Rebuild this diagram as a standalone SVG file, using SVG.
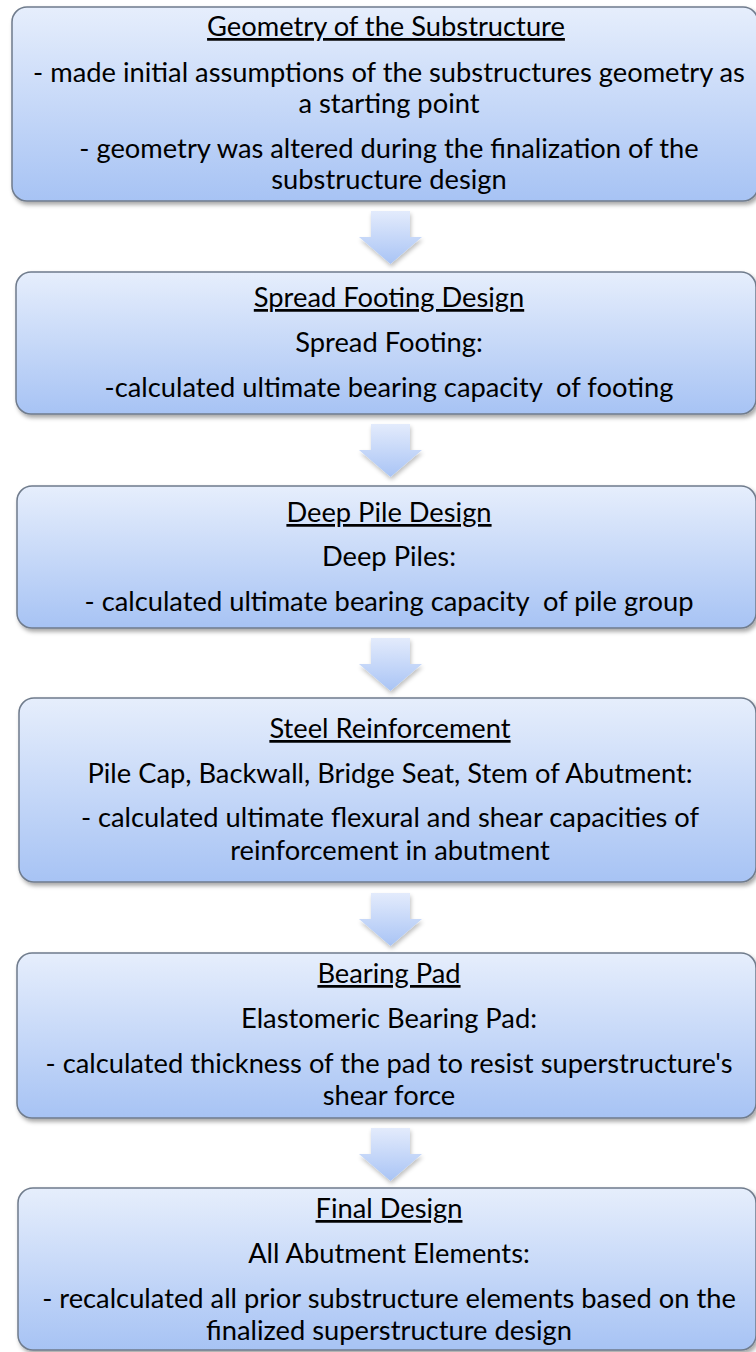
<svg xmlns="http://www.w3.org/2000/svg" width="756" height="1352" viewBox="0 0 756 1352">
<style>
.box{fill:url(#bg);stroke:#6f7b8c;stroke-width:1.5;filter:url(#sh)}
.arr{fill:url(#ag);filter:url(#sh2)}
text{font-family:Lato,"Open Sans","Liberation Sans",sans-serif;font-size:27.3px;fill:#000;text-anchor:middle;white-space:pre}
.t{text-decoration:underline}
</style>
<defs>
<linearGradient id="bg" x1="0" y1="0" x2="0" y2="1">
<stop offset="0" stop-color="#e6eefc"/>
<stop offset="1" stop-color="#a7c3f4"/>
</linearGradient>
<linearGradient id="ag" x1="0" y1="0" x2="0" y2="1">
<stop offset="0" stop-color="#e3ebfc"/>
<stop offset="1" stop-color="#a9c4f5"/>
</linearGradient>
<filter id="sh" x="-5%" y="-10%" width="115%" height="125%">
<feGaussianBlur in="SourceAlpha" stdDeviation="2"/>
<feOffset dx="2" dy="3" result="b"/>
<feFlood flood-color="#000" flood-opacity="0.35"/>
<feComposite in2="b" operator="in"/>
<feMerge><feMergeNode/><feMergeNode in="SourceGraphic"/></feMerge>
</filter>
<filter id="sh2" x="-30%" y="-20%" width="160%" height="150%">
<feGaussianBlur in="SourceAlpha" stdDeviation="2"/>
<feOffset dx="1" dy="3" result="b"/>
<feFlood flood-color="#000" flood-opacity="0.25"/>
<feComposite in2="b" operator="in"/>
<feMerge><feMergeNode/><feMergeNode in="SourceGraphic"/></feMerge>
</filter>
</defs>
<g id="connectors">
<path class="arr" d="M371,211 H410 V237 H422 L390.5,264 L359,237 H371 Z"/>
<path class="arr" d="M371,424 H410 V450 H422 L390.5,477 L359,450 H371 Z"/>
<path class="arr" d="M371,638 H410 V664 H422 L390.5,691 L359,664 H371 Z"/>
<path class="arr" d="M371,893 H410 V919 H422 L390.5,946 L359,919 H371 Z"/>
<path class="arr" d="M371,1128 H410 V1154 H422 L390.5,1181 L359,1154 H371 Z"/>
</g>
<g id="n1">
<rect class="box" x="12" y="7" width="746" height="194" rx="15"/>
<text class="t" x="386" y="36">Geometry of the Substructure</text>
<text x="389" y="82">- made initial assumptions of the substructures geometry as</text>
<text x="389" y="113">a starting point</text>
<text x="389" y="158">- geometry was altered during the finalization of the</text>
<text x="389" y="189">substructure design</text>
</g>
<g id="n2">
<rect class="box" x="16" y="272" width="740" height="142" rx="15"/>
<text class="t" x="389" y="307">Spread Footing Design</text>
<text x="389" y="352">Spread Footing:</text>
<text x="389" y="397">-calculated ultimate bearing capacity  of footing</text>
</g>
<g id="n3">
<rect class="box" x="17" y="486" width="739" height="142" rx="15"/>
<text class="t" x="389" y="522">Deep Pile Design</text>
<text x="389" y="566">Deep Piles:</text>
<text x="389" y="611">- calculated ultimate bearing capacity  of pile group</text>
</g>
<g id="n4">
<rect class="box" x="19" y="698" width="737" height="184" rx="15"/>
<text class="t" x="390" y="738">Steel Reinforcement</text>
<text x="390" y="783">Pile Cap, Backwall, Bridge Seat, Stem of Abutment:</text>
<text x="390" y="827">- calculated ultimate flexural and shear capacities of</text>
<text x="390" y="860">reinforcement in abutment</text>
</g>
<g id="n5">
<rect class="box" x="17" y="953" width="739" height="165" rx="15"/>
<text class="t" x="389" y="983">Bearing Pad</text>
<text x="389" y="1028">Elastomeric Bearing Pad:</text>
<text x="389" y="1073">- calculated thickness of the pad to resist superstructure's</text>
<text x="389" y="1105">shear force</text>
</g>
<g id="n6">
<rect class="box" x="18" y="1188" width="738" height="162" rx="15"/>
<text class="t" x="389" y="1218">Final Design</text>
<text x="389" y="1263">All Abutment Elements:</text>
<text x="389" y="1308">- recalculated all prior substructure elements based on the</text>
<text x="389" y="1340">finalized superstructure design</text>
</g>
</svg>
